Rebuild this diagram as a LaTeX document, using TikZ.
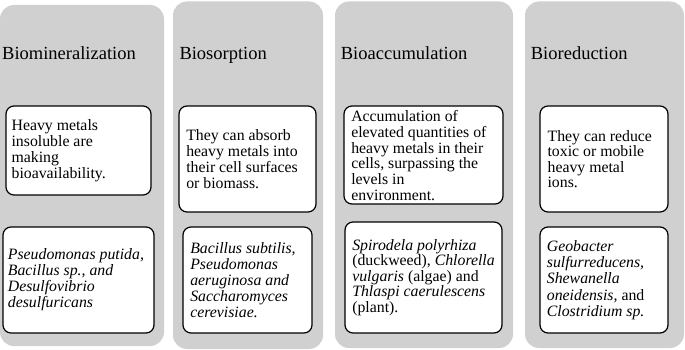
\documentclass[tikz,border=0pt]{standalone}
\usepackage{fontspec}
\setmainfont{Liberation Serif}
\definecolor{colgray}{RGB}{208,208,208}
\tikzset{
  colbg/.style={fill=colgray, rounded corners=14pt},
  wbox/.style={draw=black, fill=white, line width=1.2pt, rounded corners=8pt, inner sep=0pt},
  btext/.style={anchor=west, align=left, inner sep=0pt, font=\fontsize{15.8}{16.1}\selectfont},
  ttl/.style={anchor=base west, inner sep=0pt, font=\fontsize{18.5}{20}\selectfont}
}
\begin{document}
\begin{tikzpicture}[x=1pt,y=-1pt]
\useasboundingbox (0,0) rectangle (685,350);
% gray columns
\fill[colbg] (0,5) rectangle (164,346);
\fill[colbg] (173,1.5) rectangle (323,349);
\fill[colbg] (335,1.5) rectangle (513,348);
\fill[colbg] (525,1.5) rectangle (684,348);
% titles
\node[ttl] (t1) at (2,60) {Biomineralization};
\node[ttl] (t2) at (179.3,60) {Biosorption};
\node[ttl] (t3) at (340.7,60) {Bioaccumulation};
\node[ttl] (t4) at (530.7,60) {Bioreduction};
% column 1
\node[wbox, minimum width=145pt, minimum height=89pt] (b1a) at (78.5,150.5) {};
\node[btext] (x1a) at ([xshift=6pt]b1a.west) {Heavy metals\\insoluble are\\making\\bioavailability.};
\node[wbox, minimum width=151pt, minimum height=106pt] (b1b) at (78.5,280) {};
\node[btext] (x1b) at ([xshift=5.3pt]b1b.west) {\textit{Pseudomonas putida,}\\\textit{Bacillus sp., and}\\\textit{Desulfovibrio}\\\textit{desulfuricans}};
% column 2
\node[wbox, minimum width=137pt, minimum height=106pt] (b2a) at (247.5,159) {};
\node[btext] (x2a) at ([xshift=7.7pt]b2a.west) {They can absorb\\heavy metals into\\their cell surfaces\\or biomass.};
\node[wbox, minimum width=129pt, minimum height=106pt] (b2b) at (247.5,280) {};
\node[btext] (x2b) at ([xshift=7.7pt]b2b.west) {\textit{Bacillus subtilis,}\\\textit{Pseudomonas}\\\textit{aeruginosa and}\\\textit{Saccharomyces}\\\textit{cerevisiae.}};
% column 3
\node[wbox, minimum width=159pt, minimum height=98pt] (b3a) at (423.5,155) {};
\node[btext, font=\fontsize{15.8}{15.8}\selectfont] (x3a) at ([xshift=7.7pt,yshift=-0.5pt]b3a.west) {Accumulation of\\elevated quantities of\\heavy metals in their\\cells, surpassing the\\levels in\\environment.};
\node[wbox, minimum width=157pt, minimum height=111pt] (b3b) at (423.5,277.5) {};
\node[btext, font=\fontsize{15.8}{15.4}\selectfont] (x3b) at ([xshift=7.7pt]b3b.west) {\textit{Spirodela polyrhiza}\\(duckweed), \textit{Chlorella}\\\textit{vulgaris} (algae) and\\\textit{Thlaspi caerulescens}\\(plant).};
% column 4
\node[wbox, minimum width=128pt, minimum height=106pt] (b4a) at (604,159) {};
\node[btext, font=\fontsize{15.8}{15.5}\selectfont] (x4a) at ([xshift=8pt]b4a.west) {They can reduce\\toxic or mobile\\heavy metal\\ions.};
\node[wbox, minimum width=128pt, minimum height=106pt] (b4b) at (604,280) {};
\node[btext, font=\fontsize{15.8}{16.3}\selectfont] (x4b) at ([xshift=7.3pt]b4b.west) {\textit{Geobacter}\\\textit{sulfurreducens,}\\\textit{Shewanella}\\\textit{oneidensis,} and\\\textit{Clostridium sp.}};
\end{tikzpicture}
\end{document}
